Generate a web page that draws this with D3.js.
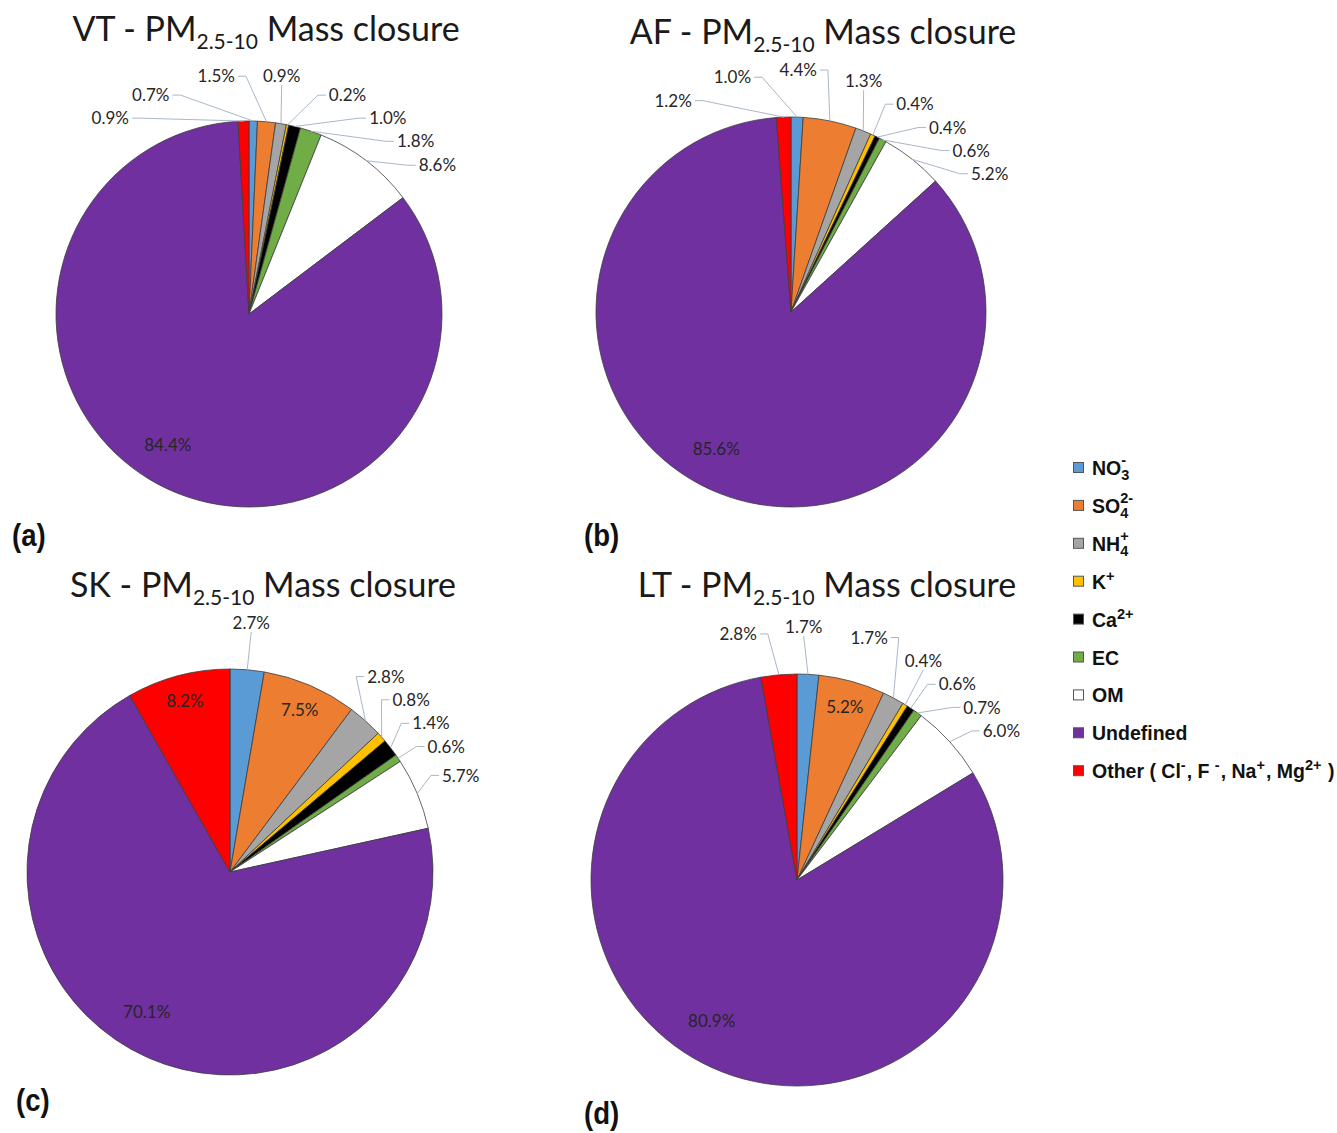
<!DOCTYPE html>
<html>
<head>
<meta charset="utf-8">
<script src="https://cdn.jsdelivr.net/npm/d3@7"></script>
<style>
  body { margin: 0; background: #ffffff; }
  svg { display: block; }
</style>
</head>
<body>
<svg id="chart" width="1337" height="1133"></svg>
<script>
// Components of the PM2.5-10 mass closure, in slice order (clockwise from 12 o'clock)
const categories = ["NO3", "SO4", "NH4", "K", "Ca", "EC", "OM", "Undefined", "Other"];
const categoryColors = ["#5b9bd5", "#ed7d31", "#a5a5a5", "#ffc000", "#000000", "#70ad47", "#ffffff", "#7030a0", "#ff0000"];

// Sites and panel tags
const sites = ["VT", "AF", "SK", "LT"];
const panelTags = ["(a)", "(b)", "(c)", "(d)"];

// Mass shares (%) per site, same order as categories
const vtShares = [0.7, 1.5, 0.9, 0.2, 1.0, 1.8, 8.6, 84.4, 0.9];
const afShares = [1.0, 4.4, 1.3, 0.4, 0.4, 0.6, 5.2, 85.6, 1.2];
const skShares = [2.7, 7.5, 2.8, 0.8, 1.4, 0.6, 5.7, 70.1, 8.2];
const ltShares = [1.7, 5.2, 1.7, 0.4, 0.6, 0.7, 6.0, 80.9, 2.8];
const siteShares = [vtShares, afShares, skShares, ltShares];

// Legend text pieces: [text, kind] where kind is n (normal), sub, sup, over (superscript stacked over a subscript)
const legendLabels = [
  [["NO", "n"], ["3", "sub"], ["-", "over"]],
  [["SO", "n"], ["4", "sub"], ["2-", "over"]],
  [["NH", "n"], ["4", "sub"], ["+", "over"]],
  [["K", "n"], ["+", "sup"]],
  [["Ca", "n"], ["2+", "sup"]],
  [["EC", "n"]],
  [["OM", "n"]],
  [["Undefined", "n"]],
  [["Other ( Cl", "n"], ["-", "sup"], [", F ", "n"], ["-", "sup"], [", Na", "n"], ["+", "sup"], [", Mg", "n"], ["2+", "sup"], [" )", "n"]]
];

// Panel geometry
const panels = [
  { cx: 249, cy: 314, r: 193, titleX: 266, titleY: 41,  tagX: 12, tagY: 546 },
  { cx: 791, cy: 312, r: 195, titleX: 823, titleY: 44,  tagX: 584, tagY: 546 },
  { cx: 230, cy: 872, r: 203, titleX: 263, titleY: 597, tagX: 16, tagY: 1111 },
  { cx: 797, cy: 880, r: 206, titleX: 827, titleY: 597, tagX: 584, tagY: 1124 }
];

const svg = d3.select("#chart");
const color = d3.scaleOrdinal(categories, categoryColors);
const pie = d3.pie().sort(null).value(d => d.value);
const fmt = v => d3.format(".1f")(v) + "%";
const labelFont = "Lato, 'Open Sans', sans-serif";
const leaderColor = "#a9b7c9";

function isInside(d) {
  return d.data.value >= 5 && d.data.cat !== "OM";
}

panels.forEach((p, i) => {
  const data = categories.map((c, j) => ({ cat: c, value: siteShares[i][j] }));
  const arcs = pie(data);
  const g = svg.append("g").attr("transform", `translate(${p.cx},${p.cy})`);
  const arc = d3.arc().innerRadius(0).outerRadius(p.r);

  // Slices
  g.selectAll("path.slice")
    .data(arcs)
    .join("path")
    .attr("class", "slice")
    .attr("d", arc)
    .attr("fill", d => color(d.data.cat))
    .attr("stroke", "#3c3c3c")
    .attr("stroke-width", 0.8)
    .attr("stroke-linejoin", "round");

  // Labels inside the larger slices
  arcs.filter(isInside).forEach(d => {
    const big = d.data.value > 50;
    const a = (d.startAngle + d.endAngle) / 2 + (big ? 0.12 : 0);
    const rho = p.r * (big ? 0.8 : 0.87);
    g.append("text")
      .attr("x", rho * Math.sin(a))
      .attr("y", -rho * Math.cos(a))
      .attr("dy", "0.36em")
      .attr("text-anchor", "middle")
      .attr("font-family", labelFont)
      .attr("font-size", 17)
      .attr("fill", "#262626")
      .text(fmt(d.data.value));
  });

  // Outside labels, spread along a ring so they do not collide
  const R = p.r + 47;
  const boxH = 23, pad = 28;
  const labels = arcs.filter(d => !isInside(d)).map(d => {
    let mid = (d.startAngle + d.endAngle) / 2;
    if (mid > Math.PI) mid -= 2 * Math.PI;
    return { d, mid, theta: mid, text: fmt(d.data.value) };
  }).sort((a, b) => a.mid - b.mid);

  labels.forEach(l => {
    l.node = g.append("text")
      .attr("text-anchor", "middle")
      .attr("dy", "0.36em")
      .attr("font-family", labelFont)
      .attr("font-size", 17)
      .attr("fill", "#262626")
      .text(l.text);
    l.w = l.node.node().getComputedTextLength();
  });

  const at = t => [R * Math.sin(t), -R * Math.cos(t)];
  const step = 0.003;
  for (let iter = 0; iter < 4000; iter++) {
    let moved = false;
    for (let k = 0; k < labels.length - 1; k++) {
      const a = labels[k], b = labels[k + 1];
      const pa = at(a.theta), pb = at(b.theta);
      const overlapX = Math.abs(pa[0] - pb[0]) < (a.w + b.w) / 2 + pad;
      const overlapY = Math.abs(pa[1] - pb[1]) < boxH;
      if (overlapX && overlapY) {
        a.theta -= step;
        b.theta += step;
        moved = true;
      }
    }
    if (!moved) break;
  }

  labels.forEach(l => {
    const [lx, ly] = at(l.theta);
    l.node.attr("x", lx).attr("y", ly);
    const px = p.r * Math.sin(l.mid), py = -p.r * Math.cos(l.mid);
    let pts;
    if (Math.abs(lx - px) < l.w / 2) {
      const sy = ly < py ? ly + 9 : ly - 9;
      pts = [[lx, sy], [px, py]];
    } else {
      const dir = px > lx ? 1 : -1;
      const ax = lx + dir * (l.w / 2 + 3);
      pts = [[ax, ly], [ax + dir * 8, ly], [px, py]];
    }
    g.insert("path", "text")
      .attr("d", d3.line()(pts))
      .attr("fill", "none")
      .attr("stroke", leaderColor)
      .attr("stroke-width", 1);
  });

  // Title
  const title = svg.append("text")
    .attr("x", p.titleX)
    .attr("y", p.titleY)
    .attr("text-anchor", "middle")
    .attr("font-family", labelFont)
    .attr("font-size", 34)
    .attr("fill", "#1a1a1a");
  title.append("tspan").text(`${sites[i]} - PM`);
  title.append("tspan").attr("font-size", 21).attr("dy", 8).text("2.5-10");
  title.append("tspan").attr("dy", -8).text(" Mass closure");

  // Panel tag, drawn in a slightly condensed bold face
  svg.append("text")
    .attr("transform", `translate(${p.tagX},${p.tagY}) scale(0.95,1.05)`)
    .attr("font-family", "'Liberation Sans', Arial, sans-serif")
    .attr("font-weight", "bold")
    .attr("font-size", 29)
    .attr("fill", "#111")
    .text(panelTags[i]);
});

// Legend
const legendX = 1073, legendY0 = 468, legendStep = 37.9;
const legend = svg.append("g").attr("font-family", "'Liberation Sans', Arial, sans-serif").attr("font-weight", "bold");
categories.forEach((c, k) => {
  const cy = legendY0 + k * legendStep;
  legend.append("rect")
    .attr("x", legendX + 0.5)
    .attr("y", cy - 5.5)
    .attr("width", 10)
    .attr("height", 10)
    .attr("fill", color(c))
    .attr("stroke", "#555")
    .attr("stroke-width", 1);
  let x = legendX + 19;
  const base = cy + 7;
  let lastSubX = x;
  legendLabels[k].forEach(([t, kind]) => {
    const size = kind === "n" ? 19.5 : 14.5;
    const shift = kind === "sub" ? 5 : kind === "sup" ? -8 : kind === "over" ? -10 : 0;
    const tx = kind === "over" ? lastSubX : x;
    const node = legend.append("text")
      .attr("x", tx)
      .attr("y", base + shift)
      .attr("font-size", size)
      .attr("fill", "#111")
      .style("white-space", "pre")
      .text(t);
    const w = node.node().getComputedTextLength();
    if (kind === "sub") { lastSubX = x; x += w; }
    else if (kind === "over") { x = Math.max(x, lastSubX + w); }
    else x += w + (kind === "sup" ? 1 : 0);
  });
});
</script>
</body>
</html>
